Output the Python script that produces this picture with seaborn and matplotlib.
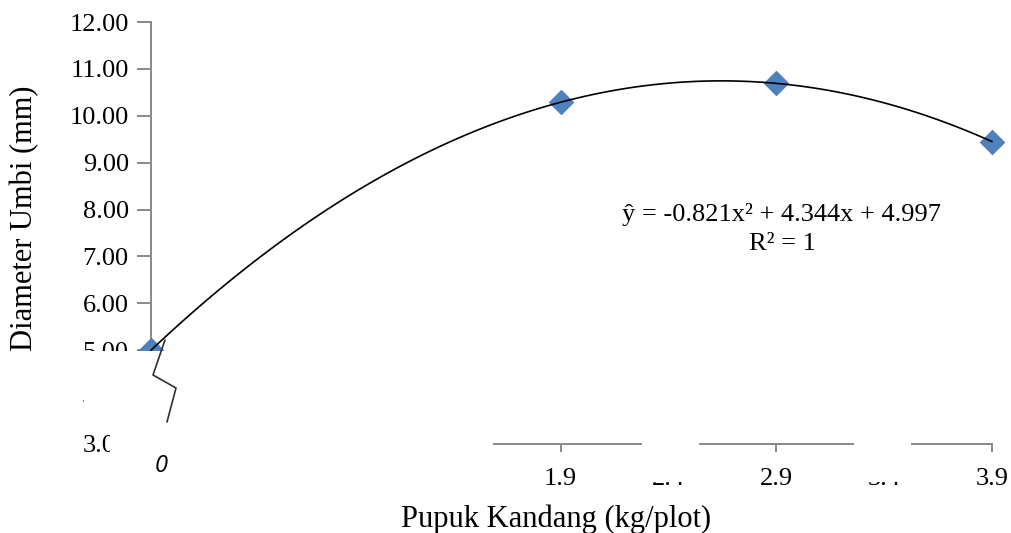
import numpy as np
import pandas as pd
import matplotlib
matplotlib.use("Agg")
import matplotlib.pyplot as plt
import seaborn as sns
from matplotlib.patches import Rectangle

# ---- data ----
dosis = [0.0, 1.9, 2.9, 3.9]                 # Pupuk Kandang (kg/plot)
diameter = [5.00, 10.29, 10.69, 9.45]        # Diameter Umbi (mm)
x_ticks = [0.4, 0.9, 1.4, 1.9, 2.4, 2.9, 3.4, 3.9]
x_tick_labels = ["0.4", "0.9", "1.4", "1.9", "2.4", "2.9", "3.4", "3.9"]
y_ticks = [3, 4, 5, 6, 7, 8, 9, 10, 11, 12]
equation = "ŷ = -0.821x² + 4.344x + 4.997"
r2_text = "R² = 1"
x_label = "Pupuk Kandang (kg/plot)"
y_label = "Diameter Umbi (mm)"
zero_label = "0"

df = pd.DataFrame({"dosis": dosis, "diameter": diameter})

sns.set_theme(style="white")
plt.rcParams["font.family"] = ["Liberation Serif", "DejaVu Serif"]
plt.rcParams["text.color"] = "black"
plt.rcParams["axes.labelcolor"] = "black"

fig = plt.figure(figsize=(10.12, 5.33), dpi=100)
W, H = 1012, 533
L, R, T, B = 151, 992, 22, 444
ax = fig.add_axes([L / W, (H - B) / H, (R - L) / W, (B - T) / H])

axis_grey = "#898989"
blue = "#4F81BD"

sns.regplot(data=df, x="dosis", y="diameter", order=2, ci=None, ax=ax,
            truncate=True, marker="D",
            scatter_kws=dict(s=150, color=blue, edgecolor="#4A7EBB",
                             linewidths=0.8, zorder=3, clip_on=False, alpha=1),
            line_kws=dict(color="black", lw=1.2, zorder=4, clip_on=False))

ax.set_xlim(0, 3.9)
ax.set_ylim(3, 12)
ax.set_yticks(y_ticks)
ax.set_yticklabels([f"{v:.2f}" for v in y_ticks])
ax.set_xticks(x_ticks)
ax.set_xticklabels(x_tick_labels)

for s in ["top", "right"]:
    ax.spines[s].set_visible(False)
for s in ["left", "bottom"]:
    ax.spines[s].set_color(axis_grey)
    ax.spines[s].set_linewidth(1.4)

ax.tick_params(axis="y", direction="out", length=10, width=1.4, color=axis_grey,
               labelsize=19, pad=6, left=True, labelcolor="black")
ax.tick_params(axis="x", direction="out", length=6, width=1.4, color=axis_grey,
               labelsize=19, pad=11, bottom=True, labelcolor="black")

ax.set_xlabel(x_label, fontsize=22, va="center", color="black")
ax.set_ylabel(y_label, fontsize=22, va="center", color="black")
ax.xaxis.set_label_coords((556 - L) / (R - L), (B - 519) / (B - T))
ax.yaxis.set_label_coords((25 - L) / (R - L), (B - 218) / (B - T))

# equation text
ax.text((782 - L) / (R - L), (B - 214) / (B - T), equation, transform=ax.transAxes,
        ha="center", va="center", fontsize=19, zorder=6, color="black")
ax.text((782 - L) / (R - L), (B - 244) / (B - T), r2_text, transform=ax.transAxes,
        ha="center", va="center", fontsize=19, zorder=6, color="black")

# white masking boxes (axis-break look of the original)
def px_box(x0, y0, x1, y1):
    fx0 = (x0 - L) / (R - L)
    fx1 = (x1 - L) / (R - L)
    fy0 = (B - y1) / (B - T)
    fy1 = (B - y0) / (B - T)
    ax.add_patch(Rectangle((fx0, fy0), fx1 - fx0, fy1 - fy0, transform=ax.transAxes,
                           facecolor="white", edgecolor="none", zorder=8, clip_on=False))

px_box(84, 351, 493, 431)
px_box(110, 431, 493, 486)
px_box(642, 436, 699, 482)
px_box(854, 436, 911, 482)

# zigzag break mark
zz_x = [(p - L) / (R - L) for p in (165, 153, 176, 167)]
zz_y = [(B - p) / (B - T) for p in (340, 375, 388, 422)]
ax.plot(zz_x, zz_y, color="#303030", lw=1.2, transform=ax.transAxes,
        zorder=9, clip_on=False)

# italic "0" label
ax.text((161 - L) / (R - L), (B - 466) / (B - T), zero_label, transform=ax.transAxes,
        ha="center", va="center", fontsize=17, fontstyle="italic",
        family=["Open Sans", "DejaVu Sans"], zorder=9, color="black")

fig.savefig("out.png", dpi=100, facecolor="white")
